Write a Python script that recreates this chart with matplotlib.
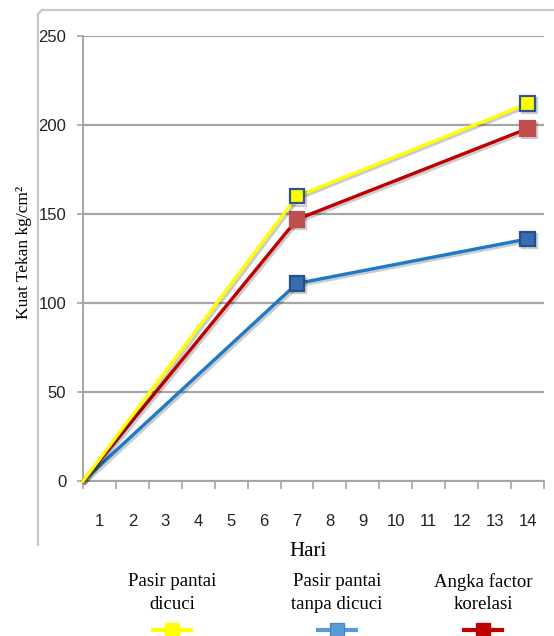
import numpy as np
import matplotlib
matplotlib.use("Agg")
import matplotlib.pyplot as plt
import matplotlib.patheffects as pe
from matplotlib.lines import Line2D

# Data
days = [0, 7, 14]
categories = [str(d) for d in range(1, 15)]
series_names = ["Pasir pantai\ndicuci", "Pasir pantai\ntanpa dicuci", "Angka factor\nkorelasi"]
dicuci = [0, 160, 212]
tanpa_dicuci = [0, 111, 136]
korelasi = [0, 147, 198]

line_colors = ["#ffff00", "#1f78c8", "#c00000"]
marker_faces = ["#ffff00", "#3a6cb0", "#c0504d"]
marker_edges = ["#2f5597", "#24508c", "#c0504d"]
legend_lines = ["#ffff00", "#5b9bd5", "#c00000"]
legend_faces = ["#ffff00", "#5b9bd5", "#c00000"]
legend_edges = ["#ffff00", "#4a86c0", "#c00000"]

serif = ["Liberation Serif", "DejaVu Serif"]
sans = ["Liberation Sans", "DejaVu Sans"]

W, H = 554, 636
fig = plt.figure(figsize=(W / 100, H / 100), dpi=100)

# outer chart frame (light gray, cut off on the right like the original)
frame = dict(transform=fig.transFigure, color="#c8c8c8", lw=1.6)
fig.add_artist(Line2D([38 / W, 38 / W], [1 - 545 / H, 1 - 14 / H], **frame))
fig.add_artist(Line2D([42 / W, 1.0], [1 - 10 / H, 1 - 10 / H], **frame))
fig.add_artist(Line2D([38 / W, 42 / W], [1 - 14 / H, 1 - 10 / H], **frame))

ax = fig.add_axes([83 / W, 1 - 481 / H, (544 - 83) / W, (481 - 36) / H])

# Excel category axis: labels sit between ticks, day 0 starts at the axis edge
x = np.clip(days, 0.5, None)
shadow = [pe.SimpleLineShadow(offset=(1.5, -1.5), alpha=0.2, shadow_color="k"), pe.Normal()]
data = [dicuci, tanpa_dicuci, korelasi]
for i in [1, 2, 0]:
    ax.plot(x, data[i], color=line_colors[i], lw=2.4, marker="s", markevery=[1, 2],
            markersize=10.5, markerfacecolor=marker_faces[i], markeredgecolor=marker_edges[i],
            markeredgewidth=1.6, path_effects=shadow, zorder=3, clip_on=False)

ax.set_xlim(0.5, 14.5)
ax.set_ylim(0, 250)
ax.set_yticks(np.arange(0, 251, 50))
ax.grid(axis="y", color="#a6a6a6", lw=1.6)
ax.set_axisbelow(True)

ax.set_xticks(np.arange(0.5, 14.6, 1))
ax.set_xticklabels([])
ax.set_xticks(np.arange(1, 15), minor=True)
ax.set_xticklabels(categories, minor=True)
ax.tick_params(axis="x", which="major", length=6, width=1.2, color="#a6a6a6")
ax.tick_params(axis="x", which="minor", length=0, pad=24)
ax.tick_params(axis="y", length=4, width=1.2, color="#a6a6a6", pad=8)
for lab in ax.get_xticklabels(minor=True) + ax.get_yticklabels():
    lab.set_family(sans)
    lab.set_fontsize(12)
    lab.set_color("#222222")

for s in ["top", "right"]:
    ax.spines[s].set_visible(False)
for s in ["left", "bottom"]:
    ax.spines[s].set_color("#a6a6a6")
    ax.spines[s].set_linewidth(1.4)

fig.text(24 / W, 1 - 252 / H, "Kuat Tekan kg/cm²", rotation=90, ha="center", va="center",
         family=serif, fontsize=12.5)
fig.text(308 / W, 1 - 552 / H, "Hari", ha="center", va="center", family=serif, fontsize=15)

# legend: text above a short line with a square marker
legend_x = [172, 337, 483]
for i in range(3):
    fig.text(legend_x[i] / W, 1 - 593 / H, series_names[i], ha="center", va="center",
             family=serif, fontsize=13.5, linespacing=1.45)
    fig.add_artist(Line2D([(legend_x[i] - 19) / W, (legend_x[i] + 19) / W], [1 - 630 / H] * 2,
                          transform=fig.transFigure, color=legend_lines[i], lw=3))
    fig.add_artist(Line2D([legend_x[i] / W], [1 - 630 / H], transform=fig.transFigure,
                          marker="s", markersize=10, markerfacecolor=legend_faces[i],
                          markeredgecolor=legend_edges[i], lw=0))

fig.savefig("out.png", dpi=100)
